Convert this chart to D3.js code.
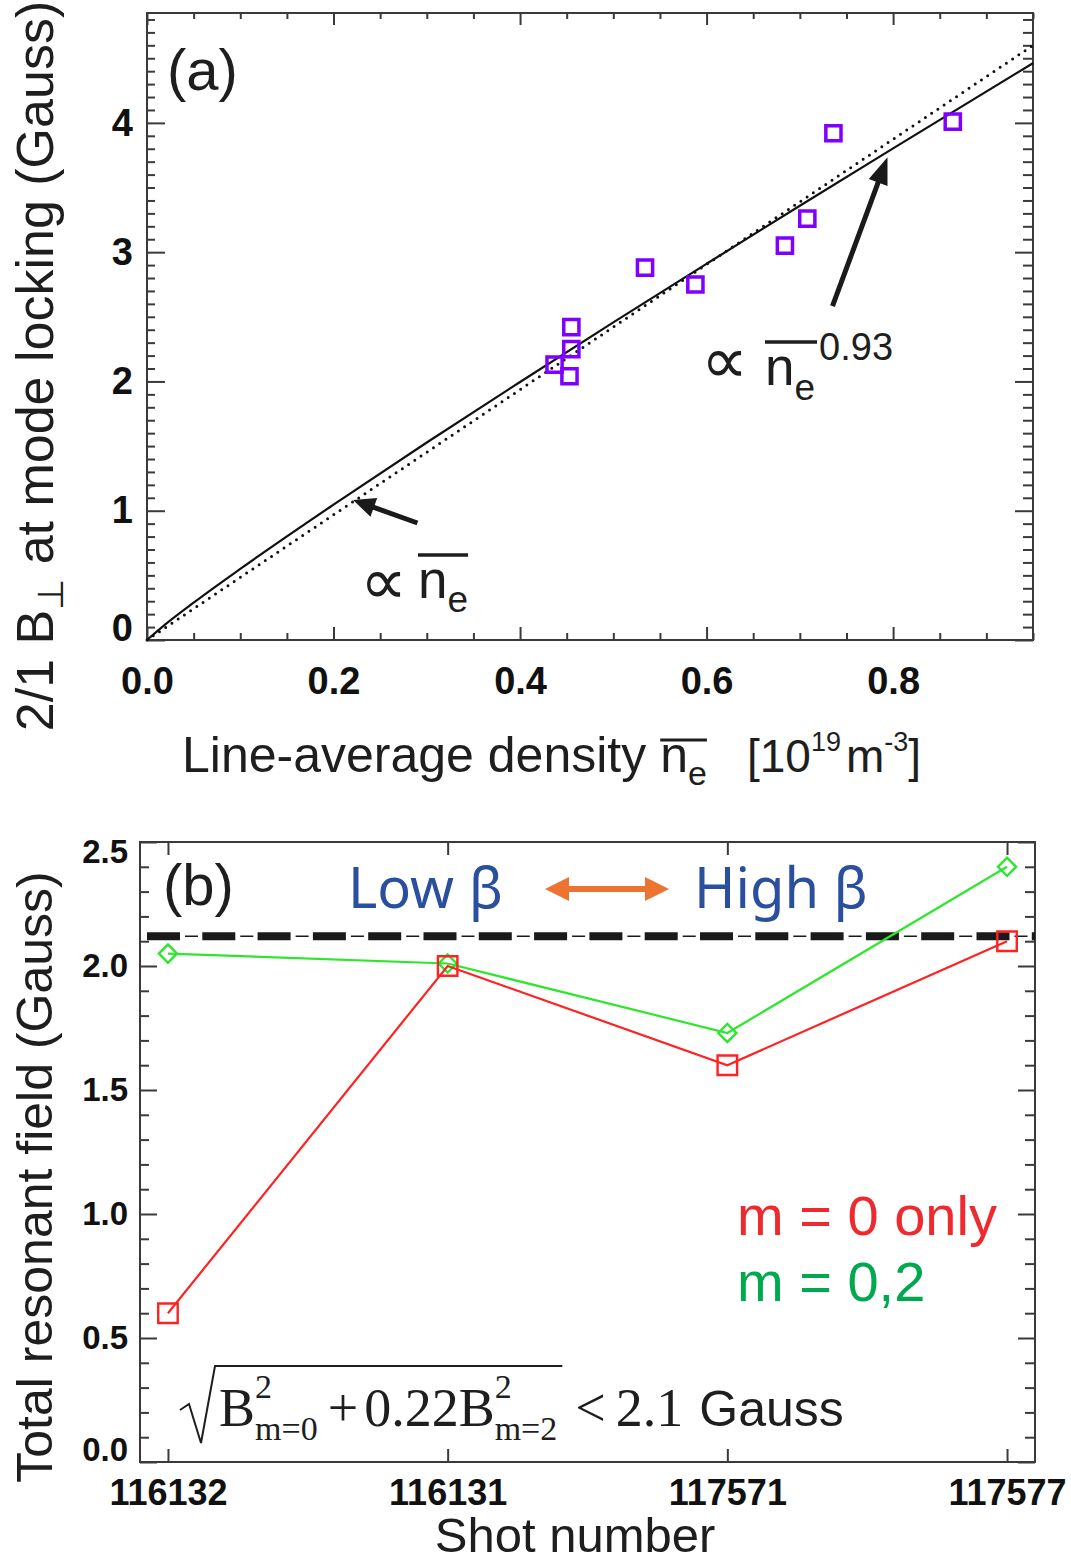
<!DOCTYPE html>
<html>
<head>
<meta charset="utf-8">
<script src="https://cdn.jsdelivr.net/npm/d3@7"></script>
<style>
  body { margin: 0; background: #fff; }
  svg { display: block; font-family: "Liberation Sans", Arial, Helvetica, sans-serif; }
</style>
</head>
<body>
<div id="chart"></div>
<script>
// ---- panel (a): 2/1 field at mode locking vs line-average density
const densityA = [0.437, 0.455, 0.455, 0.453, 0.534, 0.588, 0.684, 0.708, 0.736, 0.864];
const fieldA = [2.13, 2.42, 2.25, 2.04, 2.88, 2.75, 3.05, 3.26, 3.92, 4.01];
// power-law fit (~ n^0.93)
const fitDensity = [0, 0.02, 0.05, 0.1, 0.2, 0.3, 0.4, 0.5, 0.6, 0.7, 0.8, 0.95];
const fitField = [0, 0.123, 0.289, 0.550, 1.047, 1.528, 1.996, 2.457, 2.910, 3.359, 3.803, 4.462];
// linear scaling (~ n), the dotted line
const linDensity = [0, 0.95];
const linField = [0, 4.60];
const xTicksA = [0, 0.2, 0.4, 0.6, 0.8];
const yTicksA = [0, 1, 2, 3, 4];

// ---- panel (b): total resonant field per shot
const shots = ["116132", "116131", "117571", "117577"];
const fieldM0 = [0.60, 2.00, 1.60, 2.10];
const fieldM02 = [2.05, 2.01, 1.73, 2.40];
const threshold = 2.12;
const yTicksB = [0, 0.5, 1.0, 1.5, 2.0, 2.5];

const W = 1071, H = 1564;
const FRAME = "#3a3a3a";
const INK = "#1e1e1e";
const SERIF = "'Liberation Serif', 'Times New Roman', serif";

const svg = d3.select("#chart").append("svg")
	.attr("width", W)
	.attr("height", H);
svg.append("rect").attr("width", W).attr("height", H).attr("fill", "#fff");

// inward ticks, no domain line
function ticks(g, axis, pos, values, size) {
	axis.tickValues(values).tickSize(-size).tickSizeOuter(0);
	const sel = g.append("g").attr("transform", pos).call(axis);
	sel.select(".domain").remove();
	sel.selectAll("line").attr("stroke", FRAME).attr("stroke-width", 2);
	return sel;
}

function boldLabels(sel, size) {
	sel.attr("font-family", null)
		.attr("font-size", size)
		.attr("font-weight", "bold")
		.selectAll("text").attr("fill", "#111");
}

// place text pieces one after another, returns their boxes
function runText(g, x, y, parts) {
	let cx = x, held = 0;
	const boxes = [];
	for (const p of parts) {
		if (p.gap) { cx += p.gap; boxes.push(null); continue; }
		const t = g.append("text")
			.attr("x", cx)
			.attr("y", y + (p.dy || 0))
			.attr("font-size", p.size)
			.attr("fill", p.fill || INK)
			.text(p.t);
		if (p.family) t.attr("font-family", p.family);
		const w = t.node().getComputedTextLength();
		boxes.push({x: cx, w: w});
		if (p.hold) { held = Math.max(held, w); continue; }
		cx += Math.max(w, held);
		held = 0;
	}
	return {end: cx, boxes: boxes};
}

function overline(g, x1, x2, y, w) {
	g.append("line").attr("x1", x1).attr("x2", x2).attr("y1", y).attr("y2", y)
		.attr("stroke", INK).attr("stroke-width", w || 3);
}

function head(g, x, y, ang, len, wid, color) {
	const bx = x - len * Math.cos(ang), by = y - len * Math.sin(ang);
	const px = Math.sin(ang) * wid / 2, py = -Math.cos(ang) * wid / 2;
	g.append("path")
		.attr("d", `M${x},${y}L${bx + px},${by + py}L${bx - px},${by - py}Z`)
		.attr("fill", color);
}

function arrow(g, x1, y1, x2, y2, o) {
	const ang = Math.atan2(y2 - y1, x2 - x1);
	const sx = o.both ? x1 + o.len * 0.8 * Math.cos(ang) : x1;
	const sy = o.both ? y1 + o.len * 0.8 * Math.sin(ang) : y1;
	g.append("line")
		.attr("x1", sx).attr("y1", sy)
		.attr("x2", x2 - o.len * 0.8 * Math.cos(ang))
		.attr("y2", y2 - o.len * 0.8 * Math.sin(ang))
		.attr("stroke", o.color).attr("stroke-width", o.width);
	head(g, x2, y2, ang, o.len, o.wid, o.color);
	if (o.both) head(g, x1, y1, ang + Math.PI, o.len, o.wid, o.color);
}

// ================= panel (a) =================
const boxA = {left: 147, right: 1033, top: 13, bottom: 640};
const xA = d3.scaleLinear().domain([0, 0.95]).range([boxA.left, boxA.right]);
const yA = d3.scaleLinear().domain([0, 4.85]).range([boxA.bottom, boxA.top]);
const gA = svg.append("g").attr("class", "panel-a");

const xMinorA = d3.range(0, 20).filter(i => i % 4 !== 0).map(i => i * 0.05);
const yMinorA = d3.range(0, 49).filter(i => i % 10 !== 0).map(i => i / 10);

const xAxisA = ticks(gA, d3.axisBottom(xA).tickPadding(27).tickFormat(d3.format(".1f")),
	`translate(0,${boxA.bottom})`, xTicksA, 13);
boldLabels(xAxisA, 38);
ticks(gA, d3.axisBottom(xA).tickFormat(""), `translate(0,${boxA.bottom})`, xMinorA, 7);
ticks(gA, d3.axisTop(xA).tickFormat(""), `translate(0,${boxA.top})`, xTicksA, 12);
ticks(gA, d3.axisTop(xA).tickFormat(""), `translate(0,${boxA.top})`, xMinorA, 6);

const yAxisA = ticks(gA, d3.axisLeft(yA).tickPadding(14).tickFormat(d3.format("d")),
	`translate(${boxA.left},0)`, yTicksA, 18);
boldLabels(yAxisA, 38);
yAxisA.selectAll(".tick text").attr("y", d => d === 0 ? -12 : 0);
ticks(gA, d3.axisLeft(yA).tickFormat(""), `translate(${boxA.left},0)`, yMinorA, 8);
ticks(gA, d3.axisRight(yA).tickFormat(""), `translate(${boxA.right},0)`, yTicksA, 18);
ticks(gA, d3.axisRight(yA).tickFormat(""), `translate(${boxA.right},0)`, yMinorA, 10);

gA.append("rect")
	.attr("x", boxA.left).attr("y", boxA.top)
	.attr("width", boxA.right - boxA.left).attr("height", boxA.bottom - boxA.top)
	.attr("fill", "none").attr("stroke", FRAME).attr("stroke-width", 2);

const lineA = d3.line().x(d => xA(d[0])).y(d => yA(d[1]));
gA.append("path")
	.datum(d3.zip(linDensity, linField))
	.attr("d", lineA)
	.attr("fill", "none").attr("stroke", "#111").attr("stroke-width", 3)
	.attr("stroke-linecap", "round").attr("stroke-dasharray", "0 7.5");
gA.append("path")
	.datum(d3.zip(fitDensity, fitField))
	.attr("d", d3.line().x(d => xA(d[0])).y(d => yA(d[1])).curve(d3.curveMonotoneX))
	.attr("fill", "none").attr("stroke", "#111").attr("stroke-width", 2.2);

gA.append("g").selectAll("path")
	.data(d3.zip(densityA, fieldA))
	.join("path")
	.attr("transform", d => `translate(${xA(d[0])},${yA(d[1])})`)
	.attr("d", d3.symbol(d3.symbolSquare, 230))
	.attr("fill", "none").attr("stroke", "#7f00ff").attr("stroke-width", 3.5);

// arrows pointing at the two curves
arrow(gA, xA(0.290), yA(0.905), xA(0.221), yA(1.083), {color: "#1a1a1a", width: 5, len: 22, wid: 20});
arrow(gA, xA(0.735), yA(2.583), xA(0.794), yA(3.735), {color: "#1a1a1a", width: 5, len: 27, wid: 20});

// annotations
gA.append("text").attr("x", 167).attr("y", 90).attr("font-size", 58).attr("fill", INK).text("(a)");

runText(gA, 360, 604, [{t: "\u221D", size: 66}]);
const ann1 = runText(gA, 418, 598, [{t: "n", size: 53}, {t: "e", size: 37, dy: 14}]);
overline(gA, 418, ann1.end, 555, 3.5);

runText(gA, 701, 383, [{t: "\u221D", size: 66}]);
const ann2 = runText(gA, 765, 385, [{t: "n", size: 53}, {t: "e", size: 37, dy: 15}, {gap: 4}, {t: "0.93", size: 38, dy: -25}]);
overline(gA, 765, ann2.boxes[1].x + ann2.boxes[1].w + 2, 342, 3.5);

// axis titles
const xt = runText(gA, 182, 772, [
	{t: "Line-average density", size: 50}, {gap: 14},
	{t: "n", size: 50}, {t: "e", size: 34, dy: 13}, {gap: 40},
	{t: "[10", size: 46}, {t: "19", size: 27, dy: -21}, {gap: 5},
	{t: "m", size: 46}, {t: "-3", size: 27, dy: -21}, {t: "]", size: 46}
]);
overline(gA, xt.boxes[2].x, xt.boxes[3].x + xt.boxes[3].w, 740, 3);

const ytA = gA.append("text")
	.attr("transform", "translate(53,366) rotate(-90)")
	.attr("text-anchor", "middle")
	.attr("font-size", 52)
	.attr("fill", INK);
ytA.append("tspan").text("2/1 B");
ytA.append("tspan").attr("font-size", 36).attr("dy", 10).text("\u22A5");
ytA.append("tspan").attr("dy", -10).text(" at mode locking (Gauss)");

// ================= panel (b) =================
const boxB = {left: 140, right: 1035, top: 842, bottom: 1462};
const xB = d3.scalePoint().domain(shots).range([boxB.left, boxB.right]).padding(0.1);
const yB = d3.scaleLinear().domain([0, 2.5]).range([boxB.bottom, boxB.top]);
const gB = svg.append("g").attr("class", "panel-b");

const yMinorB = d3.range(0, 26).filter(i => i % 5 !== 0).map(i => i / 10);

const xAxisB = ticks(gB, d3.axisBottom(xB).tickPadding(17), `translate(0,${boxB.bottom})`, shots, 13);
boldLabels(xAxisB, 36);
ticks(gB, d3.axisTop(xB).tickFormat(""), `translate(0,${boxB.top})`, shots, 13);

const yAxisB = ticks(gB, d3.axisLeft(yB).tickPadding(12).tickFormat(d3.format(".1f")),
	`translate(${boxB.left},0)`, yTicksB, 17);
boldLabels(yAxisB, 33);
yAxisB.selectAll(".tick text").attr("y", d => d === 0 ? -12 : (d === 2.5 ? 10 : 0));
ticks(gB, d3.axisLeft(yB).tickFormat(""), `translate(${boxB.left},0)`, yMinorB, 9);
ticks(gB, d3.axisRight(yB).tickFormat(""), `translate(${boxB.right},0)`, yTicksB, 17);
ticks(gB, d3.axisRight(yB).tickFormat(""), `translate(${boxB.right},0)`, yMinorB, 10);

gB.append("rect")
	.attr("x", boxB.left).attr("y", boxB.top)
	.attr("width", boxB.right - boxB.left).attr("height", boxB.bottom - boxB.top)
	.attr("fill", "none").attr("stroke", FRAME).attr("stroke-width", 2);

// threshold: thick dashes with a thin dash in each gap
const yThr = yB(threshold);
gB.append("line")
	.attr("x1", boxB.left + 7).attr("x2", boxB.right).attr("y1", yThr).attr("y2", yThr)
	.attr("stroke", "#1a1a1a").attr("stroke-width", 1.6).attr("stroke-dasharray", "0 38 13 4.3");
gB.append("line")
	.attr("x1", boxB.left + 7).attr("x2", boxB.right).attr("y1", yThr).attr("y2", yThr)
	.attr("stroke", "#1a1a1a").attr("stroke-width", 8).attr("stroke-dasharray", "33 22.3");

const lineB = d3.line().x(d => xB(d[0])).y(d => yB(d[1]));
const GREEN = "#2ee62e", RED = "#ff2222";

gB.append("path").datum(d3.zip(shots, fieldM02)).attr("d", lineB)
	.attr("fill", "none").attr("stroke", GREEN).attr("stroke-width", 2.2);
gB.append("g").selectAll("path")
	.data(d3.zip(shots, fieldM02))
	.join("path")
	.attr("transform", d => `translate(${xB(d[0])},${yB(d[1])}) rotate(45)`)
	.attr("d", d3.symbol(d3.symbolSquare, 165))
	.attr("fill", "none").attr("stroke", GREEN).attr("stroke-width", 2.4);

gB.append("path").datum(d3.zip(shots, fieldM0)).attr("d", lineB)
	.attr("fill", "none").attr("stroke", RED).attr("stroke-width", 2.2);
gB.append("g").selectAll("path")
	.data(d3.zip(shots, fieldM0))
	.join("path")
	.attr("transform", d => `translate(${xB(d[0])},${yB(d[1])})`)
	.attr("d", d3.symbol(d3.symbolSquare, 380))
	.attr("fill", "none").attr("stroke", RED).attr("stroke-width", 2.4);

gB.append("text").attr("x", 163).attr("y", 905).attr("font-size", 58).attr("fill", INK).text("(b)");

const BLUE = "#2a4f9e";
gB.append("text").attr("x", 348).attr("y", 908).attr("font-size", 56)
	.attr("font-family", "'Noto Sans', 'Open Sans', sans-serif").attr("fill", BLUE).text("Low \u03B2");
gB.append("text").attr("x", 694).attr("y", 908).attr("font-size", 56)
	.attr("font-family", "'Noto Sans', 'Open Sans', sans-serif").attr("fill", BLUE).text("High \u03B2");
arrow(gB, 545, 889, 669, 889, {color: "#ed7430", width: 6, len: 24, wid: 24, both: true});

// legend
gB.append("text").attr("x", 737).attr("y", 1235).attr("font-size", 56).attr("fill", "#ee2a2e").text("m = 0 only");
gB.append("text").attr("x", 737).attr("y", 1301).attr("font-size", 56).attr("fill", "#00a84f").text("m = 0,2");

// constraint formula
const f = runText(gB, 219, 1426, [
	{t: "B", size: 54, family: SERIF},
	{t: "2", size: 34, dy: -28, family: SERIF, hold: true},
	{t: "m=0", size: 34, dy: 14, family: SERIF},
	{gap: 10},
	{t: "+", size: 54, family: SERIF},
	{gap: 6},
	{t: "0.22B", size: 54, family: SERIF},
	{t: "2", size: 34, dy: -28, family: SERIF, hold: true},
	{t: "m=2", size: 34, dy: 14, family: SERIF},
	{gap: 18},
	{t: "<", size: 54, family: SERIF},
	{gap: 10},
	{t: "2.1", size: 54, family: SERIF},
	{gap: 16},
	{t: "Gauss", size: 50}
]);
const rootEnd = f.boxes[8].x + f.boxes[8].w + 5;
gB.append("path")
	.attr("d", `M180,1410L189,1404L201,1443L215,1366L${rootEnd},1366`)
	.attr("fill", "none").attr("stroke", INK).attr("stroke-width", 2);

// axis titles
gB.append("text").attr("x", 575).attr("y", 1552).attr("font-size", 49)
	.attr("text-anchor", "middle").attr("fill", INK).text("Shot number");
gB.append("text")
	.attr("transform", "translate(52,1177) rotate(-90)")
	.attr("text-anchor", "middle")
	.attr("font-size", 50)
	.attr("fill", INK)
	.text("Total resonant field (Gauss)");
</script>
</body>
</html>
